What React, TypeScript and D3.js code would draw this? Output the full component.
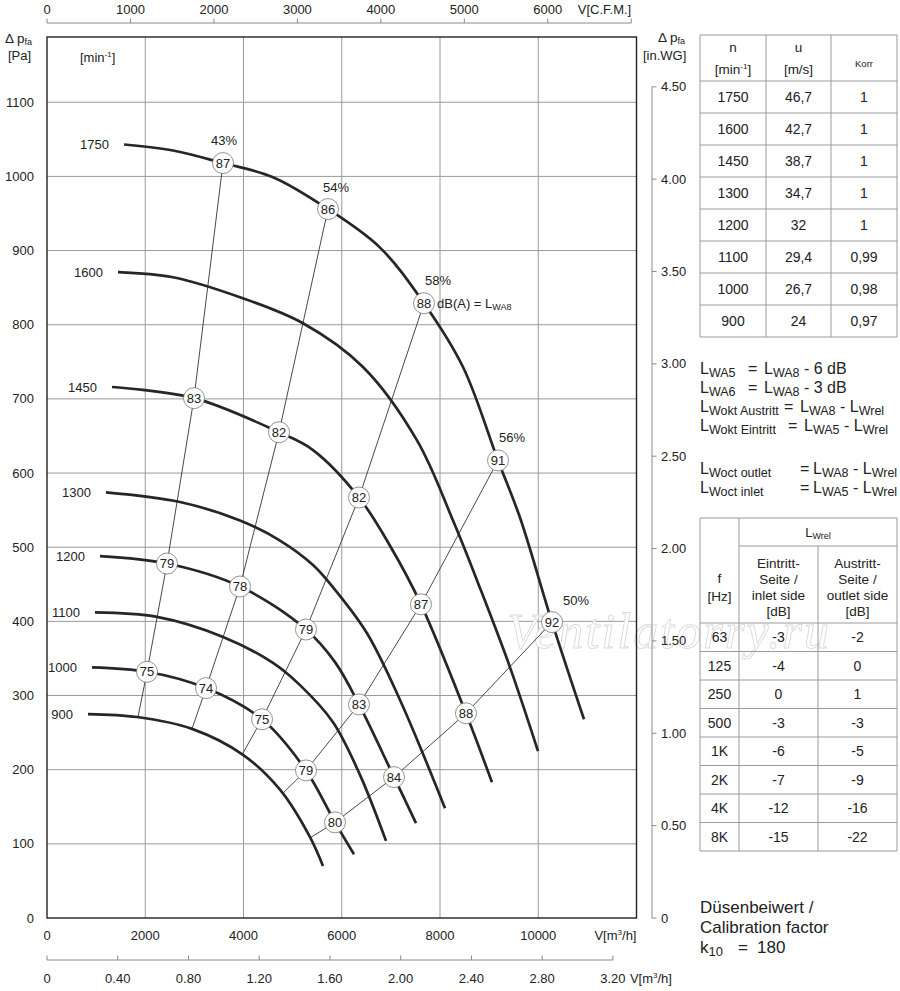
import React, { useEffect, useRef } from 'react';
import * as d3 from 'd3';

type Pt = [number, number];

const W = 900;
const H = 991;
const FONT = '"Liberation Sans", Arial, Helvetica, sans-serif';
const CFM = 1.699; // m3/h per CFM
const INWG = 249.089; // Pa per in.WG

// fan curves: [V m3/h, dp Pa]
const speeds = [1750, 1600, 1450, 1300, 1200, 1100, 1000, 900];
const n1750: Pt[] = [[1567, 1043], [2565, 1035], [3583, 1018], [4600, 999], [5720, 956], [6779, 904], [7674, 829], [8468, 743], [9181, 617], [9628, 540], [10280, 399], [10931, 268]];
const n1600: Pt[] = [[1445, 871], [2565, 864], [3929, 837], [5211, 802], [6432, 743], [7532, 644], [8265, 536], [8814, 445], [9425, 338], [9995, 225]];
const n1450: Pt[] = [[1323, 716], [2992, 701], [4723, 655], [5415, 631], [6351, 567], [7000, 500], [7613, 423], [8529, 276], [9058, 183]];
const n1300: Pt[] = [[1201, 574], [2707, 561], [3929, 536], [4743, 509], [5415, 476], [5822, 446], [6514, 384], [7186, 294], [8102, 148]];
const n1200: Pt[] = [[1079, 488], [2443, 478], [3929, 447], [5272, 389], [5863, 345], [6351, 288], [7064, 190], [7511, 128]];
const n1100: Pt[] = [[977, 412], [2239, 406], [3583, 379], [4600, 344], [5150, 314], [5822, 264], [6371, 193], [6901, 104]];
const n1000: Pt[] = [[916, 338], [2036, 332], [3237, 310], [4377, 268], [5272, 199], [5863, 129], [6249, 86]];
const n900: Pt[] = [[835, 275], [1832, 271], [2952, 255], [3990, 220], [4743, 173], [5354, 109], [5618, 70]];
const curves = [n1750, n1600, n1450, n1300, n1200, n1100, n1000, n900];

// efficiency lines with sound levels dB(A)
const effLabels = ['43%', '54%', '58%', '56%', '50%'];
const effStart: Pt[] = [[1852, 271], [2952, 255], [3969, 220], [4784, 167], [5354, 108]];
const effPoints: Pt[][] = [
  [[2036, 332], [2443, 478], [2992, 701], [3583, 1018]],
  [[3237, 310], [3929, 447], [4723, 655], [5720, 956]],
  [[4377, 268], [5272, 389], [6351, 567], [7674, 829]],
  [[5272, 199], [6351, 288], [7613, 423], [9181, 617]],
  [[5863, 129], [7064, 190], [8529, 276], [10280, 399]],
];
const effDb = [
  [75, 79, 83, 87],
  [74, 78, 82, 86],
  [75, 79, 82, 88],
  [79, 83, 87, 91],
  [80, 84, 88, 92],
];
const effLabelOffset: Pt[] = [[1, -23], [8, -22], [14, -23], [14, -23], [24, -22]];

// axis ticks
const paTicks = d3.range(0, 1101, 100);
const flowTicks = d3.range(0, 10001, 2000);
const cfmTicks = d3.range(0, 7001, 1000);
const secTicks = d3.range(0, 3.21, 0.4);
const wgTicks = d3.range(0, 4.51, 0.5);

// speed table
const tblSpeed = ['1750', '1600', '1450', '1300', '1200', '1100', '1000', '900'];
const tblU = ['46,7', '42,7', '38,7', '34,7', '32', '29,4', '26,7', '24'];
const tblKorr = ['1', '1', '1', '1', '1', '0,99', '0,98', '0,97'];

// octave table
const freqs = ['63', '125', '250', '500', '1K', '2K', '4K', '8K'];
const inletDb = ['-3', '-4', '0', '-3', '-6', '-7', '-12', '-15'];
const outletDb = ['-2', '0', '1', '-3', '-5', '-9', '-16', '-22'];

// sound power formulas: [lhs subscript, rhs subscript, tail]
const formulaLhs = ['WA5', 'WA6', 'Wokt Austritt', 'Wokt Eintritt', 'Woct outlet', 'Woct inlet'];
const formulaRhs = ['WA8', 'WA8', 'WA8', 'WA5', 'WA8', 'WA5'];
const formulaTail = ['6 dB', '3 dB', 'rel', 'rel', 'rel', 'rel'];

type Part = { t: string; k?: 'sub' | 'sup'; x?: number; fs?: number };

function rich(parent: any, px: number, py: number, parts: Part[], size: number, anchor = 'start') {
  const t = parent.append('text')
    .attr('x', px)
    .attr('y', py)
    .attr('font-size', size)
    .attr('text-anchor', anchor)
    .style('white-space', 'pre');
  let shift = 0;
  parts.forEach(p => {
    const target = p.k === 'sub' ? size * 0.18 : p.k === 'sup' ? -size * 0.4 : 0;
    const ts = t.append('tspan').attr('dy', target - shift).text(p.t);
    if (p.k) ts.attr('font-size', p.fs ?? size * 0.7);
    if (p.x !== undefined) ts.attr('x', p.x);
    shift = target;
  });
  return t;
}

export default function App() {
  const svgRef = useRef<SVGSVGElement>(null);

  useEffect(() => {
    if (!svgRef.current) return;
    const svg = d3.select(svgRef.current);
    svg.selectAll('*').remove();

    const left = 47, right = 636.5, top = 37, bottom = 918;
    const x = d3.scaleLinear().domain([0, 12000]).range([left, right]);
    const y = d3.scaleLinear().domain([0, 1188]).range([bottom, top]);
    const xCfm = d3.scaleLinear().domain([0, 7000]).range([x(0), x(7000 * CFM)]);
    const xSec = d3.scaleLinear().domain([0, 3.2]).range([x(0), x(3.2 * 3600)]);
    const yWg = d3.scaleLinear().domain([0, 4.5]).range([y(0), y(4.5 * INWG)]);

    const g = svg.append('g').attr('font-family', FONT).attr('fill', '#222');

    // grid
    g.selectAll('.vgrid')
      .data(flowTicks.slice(1))
      .enter()
      .append('line')
      .attr('x1', d => x(d)).attr('x2', d => x(d))
      .attr('y1', top).attr('y2', bottom)
      .attr('stroke', '#9a9a9a').attr('stroke-width', 1);
    g.selectAll('.hgrid')
      .data(paTicks.slice(1))
      .enter()
      .append('line')
      .attr('x1', left).attr('x2', right)
      .attr('y1', d => y(d)).attr('y2', d => y(d))
      .attr('stroke', '#9a9a9a').attr('stroke-width', 1);

    // watermark
    g.append('text')
      .attr('x', 507).attr('y', 648)
      .attr('font-family', '"Liberation Serif", "DejaVu Serif", serif')
      .attr('font-style', 'italic')
      .attr('font-size', 50)
      .attr('textLength', 322)
      .attr('fill', '#fff')
      .attr('stroke', '#dadada')
      .attr('stroke-width', 0.9)
      .text('Ventilatorry.ru');

    // efficiency lines
    const thin = d3.line<Pt>().x(d => x(d[0])).y(d => y(d[1]));
    effPoints.forEach((pts, i) => {
      g.append('path')
        .attr('d', thin([effStart[i], ...pts]) as string)
        .attr('fill', 'none')
        .attr('stroke', '#333')
        .attr('stroke-width', 0.9);
    });

    // fan curves
    const thick = d3.line<Pt>().x(d => x(d[0])).y(d => y(d[1])).curve(d3.curveCatmullRom.alpha(0.5));
    curves.forEach((c, i) => {
      g.append('path')
        .attr('d', thick(c) as string)
        .attr('fill', 'none')
        .attr('stroke', '#262626')
        .attr('stroke-width', 2.7);
      g.append('text')
        .attr('x', x(c[0][0]) - 15)
        .attr('y', y(c[0][1]) + 4.5)
        .attr('text-anchor', 'end')
        .attr('font-size', 13)
        .text(speeds[i]);
    });

    // sound level circles
    effPoints.forEach((pts, i) => {
      pts.forEach((p, j) => {
        g.append('circle')
          .attr('cx', x(p[0])).attr('cy', y(p[1]))
          .attr('r', 10.5)
          .attr('fill', '#fff')
          .attr('stroke', '#777')
          .attr('stroke-width', 0.8);
        g.append('text')
          .attr('x', x(p[0])).attr('y', y(p[1]) + 4.5)
          .attr('text-anchor', 'middle')
          .attr('font-size', 13)
          .text(effDb[i][j]);
      });
      const last = pts[pts.length - 1];
      g.append('text')
        .attr('x', x(last[0]) + effLabelOffset[i][0])
        .attr('y', y(last[1]) + effLabelOffset[i][1] + 4.5)
        .attr('text-anchor', 'middle')
        .attr('font-size', 13)
        .text(effLabels[i]);
    });
    const p88 = effPoints[2][3];
    rich(g, x(p88[0]) + 13, y(p88[1]) + 4.5, [{ t: 'dB(A) = L' }, { t: 'WA8', k: 'sub', fs: 9 }], 13);

    // frame
    g.append('rect')
      .attr('x', left).attr('y', top)
      .attr('width', right - left).attr('height', bottom - top)
      .attr('fill', 'none')
      .attr('stroke', '#222')
      .attr('stroke-width', 1.4);

    // left axis labels
    g.selectAll('.pa')
      .data(paTicks)
      .enter()
      .append('text')
      .attr('x', 34)
      .attr('y', d => y(d) + 4.5)
      .attr('text-anchor', 'end')
      .attr('font-size', 13)
      .text(d => d);
    rich(g, 5, 43, [{ t: 'Δ p' }, { t: 'fa', k: 'sub', fs: 9 }], 13.5);
    g.append('text').attr('x', 8).attr('y', 60).attr('font-size', 13).text('[Pa]');
    rich(g, 80, 62, [{ t: '[min' }, { t: '-1', k: 'sup', fs: 8 }, { t: ']' }], 13);

    // bottom axis labels
    g.selectAll('.flow')
      .data(flowTicks)
      .enter()
      .append('text')
      .attr('x', d => x(d))
      .attr('y', 940)
      .attr('text-anchor', 'middle')
      .attr('font-size', 13)
      .text(d => d);
    rich(g, right, 940, [{ t: 'V[m' }, { t: '3', k: 'sup', fs: 8 }, { t: '/h]' }], 13, 'end');

    // top CFM axis
    const axisCol = '#8a8a8a';
    g.append('line')
      .attr('x1', xCfm(0)).attr('x2', xCfm(7000))
      .attr('y1', 23).attr('y2', 23)
      .attr('stroke', axisCol).attr('stroke-width', 1);
    g.selectAll('.cfmTick')
      .data(cfmTicks)
      .enter()
      .append('line')
      .attr('x1', d => xCfm(d)).attr('x2', d => xCfm(d))
      .attr('y1', 18.5).attr('y2', 23)
      .attr('stroke', axisCol).attr('stroke-width', 1);
    g.selectAll('.cfmLabel')
      .data(cfmTicks.slice(0, -1))
      .enter()
      .append('text')
      .attr('x', d => xCfm(d))
      .attr('y', 14)
      .attr('text-anchor', 'middle')
      .attr('font-size', 13)
      .text(d => d);
    g.append('text')
      .attr('x', xCfm(7000)).attr('y', 14)
      .attr('text-anchor', 'end')
      .attr('font-size', 13)
      .text('V[C.F.M.]');

    // bottom m3/s axis
    g.append('line')
      .attr('x1', xSec(0)).attr('x2', xSec(3.2))
      .attr('y1', 960).attr('y2', 960)
      .attr('stroke', axisCol).attr('stroke-width', 1);
    g.selectAll('.secTick')
      .data(secTicks)
      .enter()
      .append('line')
      .attr('x1', d => xSec(d)).attr('x2', d => xSec(d))
      .attr('y1', 955.5).attr('y2', 960)
      .attr('stroke', axisCol).attr('stroke-width', 1);
    g.selectAll('.secLabel')
      .data(secTicks)
      .enter()
      .append('text')
      .attr('x', d => xSec(d))
      .attr('y', 983)
      .attr('text-anchor', 'middle')
      .attr('font-size', 13)
      .text(d => (d === 0 ? '0' : d3.format('.2f')(d)));
    rich(g, xSec(3.2) + 17, 983, [{ t: 'V[m' }, { t: '3', k: 'sup', fs: 8 }, { t: '/h]' }], 13);

    // right in.WG axis
    const spineX = 652;
    g.append('line')
      .attr('x1', spineX).attr('x2', spineX)
      .attr('y1', yWg(0)).attr('y2', yWg(4.5))
      .attr('stroke', axisCol).attr('stroke-width', 1);
    g.selectAll('.wgTick')
      .data(wgTicks)
      .enter()
      .append('line')
      .attr('x1', spineX).attr('x2', spineX + 4.5)
      .attr('y1', d => yWg(d)).attr('y2', d => yWg(d))
      .attr('stroke', axisCol).attr('stroke-width', 1);
    g.selectAll('.wgLabel')
      .data(wgTicks)
      .enter()
      .append('text')
      .attr('x', spineX + 9)
      .attr('y', d => yWg(d) + 4.5)
      .attr('font-size', 13)
      .text(d => (d === 0 ? '0' : d3.format('.2f')(d)));
    rich(g, 658, 42, [{ t: 'Δ p' }, { t: 'fa', k: 'sub', fs: 9 }], 13.5);
    g.append('text').attr('x', 643).attr('y', 60).attr('font-size', 13).text('[in.WG]');

    // speed table
    const gridCol = '#9a9a9a';
    const t1x = [700, 766, 831, 897];
    const t1Top = 35, t1Head = 81, t1Row = (337 - 81) / 8;
    const t1Rows = d3.range(9).map(i => t1Head + i * t1Row);
    const hLine = (x1: number, x2: number, yy: number) =>
      g.append('line').attr('x1', x1).attr('x2', x2).attr('y1', yy).attr('y2', yy).attr('stroke', gridCol).attr('stroke-width', 1);
    const vLine = (xx: number, y1: number, y2: number) =>
      g.append('line').attr('x1', xx).attr('x2', xx).attr('y1', y1).attr('y2', y2).attr('stroke', gridCol).attr('stroke-width', 1);
    hLine(t1x[0], t1x[3], t1Top);
    t1Rows.forEach(r => hLine(t1x[0], t1x[3], r));
    t1x.forEach(c => vLine(c, t1Top, t1Rows[8]));
    const c1 = t1x.slice(0, 3).map((c, i) => (c + t1x[i + 1]) / 2);
    g.append('text').attr('x', c1[0]).attr('y', 52).attr('text-anchor', 'middle').attr('font-size', 13.5).text('n');
    rich(g, c1[0], 74, [{ t: '[min' }, { t: '-1', k: 'sup', fs: 8 }, { t: ']' }], 13.5, 'middle');
    g.append('text').attr('x', c1[1]).attr('y', 52).attr('text-anchor', 'middle').attr('font-size', 13.5).text('u');
    g.append('text').attr('x', c1[1]).attr('y', 74).attr('text-anchor', 'middle').attr('font-size', 13.5).text('[m/s]');
    g.append('text').attr('x', c1[2]).attr('y', 67).attr('text-anchor', 'middle').attr('font-size', 9.5).text('Korr');
    [tblSpeed, tblU, tblKorr].forEach((col, ci) => {
      col.forEach((v, ri) => {
        g.append('text')
          .attr('x', c1[ci])
          .attr('y', t1Rows[ri] + t1Row / 2 + 5)
          .attr('text-anchor', 'middle')
          .attr('font-size', 14)
          .text(v);
      });
    });

    // formulas
    const fy = [374, 393, 412, 431, 474, 493];
    const eqX = [748, 748, 784, 788, 800, 800];
    const lX = [764, 764, 800, 804, 813, 813];
    const fs = 16, sub = 12.5;
    formulaLhs.forEach((lhs, i) => {
      const parts: Part[] = [
        { t: 'L' }, { t: lhs, k: 'sub', fs: sub },
        { t: '=', x: eqX[i] },
        { t: 'L', x: lX[i] }, { t: formulaRhs[i], k: 'sub', fs: sub },
      ];
      if (i < 2) parts.push({ t: ' - ' + formulaTail[i] });
      else parts.push({ t: ' - L' }, { t: 'W' + formulaTail[i], k: 'sub', fs: sub });
      rich(g, 700, fy[i], parts, fs);
    });

    // octave table
    const t2x = [700, 739, 818, 897];
    const t2Top = 518, t2Mid = 546, t2Head = 623, t2Row = (851 - 623) / 8;
    const t2Rows = d3.range(9).map(i => t2Head + i * t2Row);
    hLine(t2x[0], t2x[3], t2Top);
    hLine(t2x[1], t2x[3], t2Mid);
    t2Rows.forEach(r => hLine(t2x[0], t2x[3], r));
    vLine(t2x[0], t2Top, t2Rows[8]);
    vLine(t2x[1], t2Top, t2Rows[8]);
    vLine(t2x[2], t2Mid, t2Rows[8]);
    vLine(t2x[3], t2Top, t2Rows[8]);
    const c2 = t2x.slice(0, 3).map((c, i) => (c + t2x[i + 1]) / 2);
    rich(g, (t2x[1] + t2x[3]) / 2, 537, [{ t: 'L' }, { t: 'Wrel', k: 'sub', fs: 9 }], 13, 'middle');
    g.append('text').attr('x', c2[0]).attr('y', 583).attr('text-anchor', 'middle').attr('font-size', 13.5).text('f');
    g.append('text').attr('x', c2[0]).attr('y', 601).attr('text-anchor', 'middle').attr('font-size', 13.5).text('[Hz]');
    const headIn = ['Eintritt-', 'Seite /', 'inlet side', '[dB]'];
    const headOut = ['Austritt-', 'Seite /', 'outlet side', '[dB]'];
    const hy = [568, 584, 600, 616];
    headIn.forEach((t, i) => g.append('text').attr('x', c2[1]).attr('y', hy[i]).attr('text-anchor', 'middle').attr('font-size', 13.5).text(t));
    headOut.forEach((t, i) => g.append('text').attr('x', c2[2]).attr('y', hy[i]).attr('text-anchor', 'middle').attr('font-size', 13.5).text(t));
    [freqs, inletDb, outletDb].forEach((col, ci) => {
      col.forEach((v, ri) => {
        g.append('text')
          .attr('x', c2[ci])
          .attr('y', t2Rows[ri] + t2Row / 2 + 5)
          .attr('text-anchor', 'middle')
          .attr('font-size', 14)
          .text(v);
      });
    });

    // calibration
    g.append('text').attr('x', 700).attr('y', 913).attr('font-size', 17).text('Düsenbeiwert /');
    g.append('text').attr('x', 700).attr('y', 933).attr('font-size', 17).text('Calibration factor');
    rich(g, 700, 953, [{ t: 'k' }, { t: '10', k: 'sub', fs: 13 }, { t: '=', x: 738 }, { t: '180', x: 757 }], 17);
  }, []);

  return (
    <svg
      ref={svgRef}
      width={W}
      height={H}
      style={{ position: 'absolute', left: 0, top: 0, background: '#fff' }}
    />
  );
}
